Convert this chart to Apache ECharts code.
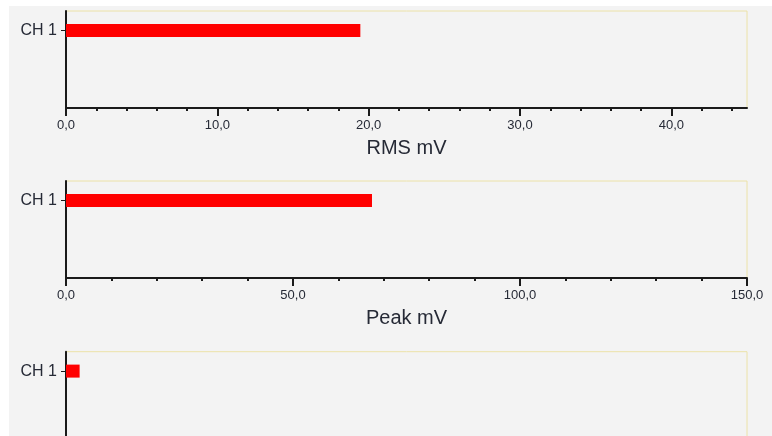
<!DOCTYPE html>
<html>
<head>
<meta charset="utf-8">
<script src="https://cdn.jsdelivr.net/npm/echarts@6/dist/echarts.min.js"></script>
<style>
  html, body { margin: 0; padding: 0; background: #ffffff; overflow: hidden; width: 772px; height: 436px; }
  #chart { position: absolute; left: 9px; top: 6px; width: 763px; height: 600px; background: #f3f3f3; }
</style>
</head>
<body>
<div id="chart"></div>
<script>
// ---- data ----
const categories = ['CH 1'];
const rmsValues = [19.45];
const peakValues = [67.4];
const thirdValues = [0.9];

const rmsTitle = 'RMS mV';
const peakTitle = 'Peak mV';
const thirdTitle = '';

const rmsTicks = [0, 10, 20, 30, 40];
const rmsMax = 45;
const rmsMinorStep = 2;

const peakTicks = [0, 50, 100, 150];
const peakMax = 150;
const peakMinorStep = 10;

const thirdTicks = [0, 10, 20, 30, 40];
const thirdMax = 45;
const thirdMinorStep = 2;

// ---- build ----
const FONT = '"Liberation Sans", Arial, sans-serif';
const TXT = '#262a36';
const fmt = v => Number(v).toFixed(1).replace('.', ',');

function minorList(max, step, majors) {
  const out = [];
  for (let i = 1; i * step < max - 1e-9; i++) {
    const v = +(i * step).toFixed(6);
    if (majors.indexOf(v) < 0) out.push(v);
  }
  return out;
}

// category slots: the band is split so the channel sits on the first inner slot
const yData = [''].concat(categories, ['', '', '', '']);

const panels = [
  { top: 5,   values: rmsValues,   ticks: rmsTicks,   max: rmsMax,   step: rmsMinorStep,   title: rmsTitle },
  { top: 175, values: peakValues,  ticks: peakTicks,  max: peakMax,  step: peakMinorStep,  title: peakTitle },
  { top: 345.7, values: thirdValues, ticks: thirdTicks, max: thirdMax, step: thirdMinorStep, title: thirdTitle }
];

const grid = [], xAxis = [], yAxis = [], series = [];
panels.forEach((p, i) => {
  grid.push({
    left: 57, right: 25, top: p.top, height: 97,
    show: true, borderColor: '#ece2a8', borderWidth: 1, backgroundColor: 'transparent',
    containLabel: false
  });
  // main value axis
  xAxis.push({
    type: 'value', gridIndex: i, min: 0, max: p.max, position: 'bottom',
    name: p.title, nameLocation: 'middle', nameGap: 30,
    nameTextStyle: { fontFamily: FONT, fontSize: 20, color: TXT },
    axisLine: { show: true, onZero: false, lineStyle: { color: '#1a1a1a', width: 2 } },
    axisTick: { show: true, length: 8, lineStyle: { color: '#1a1a1a', width: 2 }, customValues: p.ticks },
    axisLabel: { show: true, margin: 11, fontFamily: FONT, fontSize: 13, color: TXT,
                 customValues: p.ticks, formatter: fmt },
    splitLine: { show: false }
  });
  // minor tick overlay
  xAxis.push({
    type: 'value', gridIndex: i, min: 0, max: p.max, position: 'bottom',
    axisLine: { show: false, onZero: false },
    axisTick: { show: true, length: 3, lineStyle: { color: '#1a1a1a', width: 2 },
                customValues: minorList(p.max, p.step, p.ticks) },
    axisLabel: { show: false },
    splitLine: { show: false }
  });
  yAxis.push({
    type: 'category', gridIndex: i, data: yData, inverse: true, boundaryGap: false,
    axisLine: { show: true, onZero: false, lineStyle: { color: '#1a1a1a', width: 2 } },
    axisTick: { show: true, length: 5, lineStyle: { color: '#1a1a1a', width: 1 },
                interval: (idx, val) => val !== '' },
    axisLabel: { show: true, interval: 0, margin: 9, fontFamily: FONT, fontSize: 16, color: TXT },
    splitLine: { show: false }
  });
  series.push({
    type: 'bar', xAxisIndex: i * 2, yAxisIndex: i,
    data: categories.map((c, k) => [p.values[k], c]),
    barWidth: 13,
    itemStyle: { color: '#ff0000' },
    silent: true, animation: false
  });
});

const chart = echarts.init(document.getElementById('chart'), null, { renderer: 'canvas' });
chart.setOption({
  animation: false,
  backgroundColor: '#f3f3f3',
  textStyle: { fontFamily: FONT },
  grid, xAxis, yAxis, series
});
</script>
</body>
</html>
